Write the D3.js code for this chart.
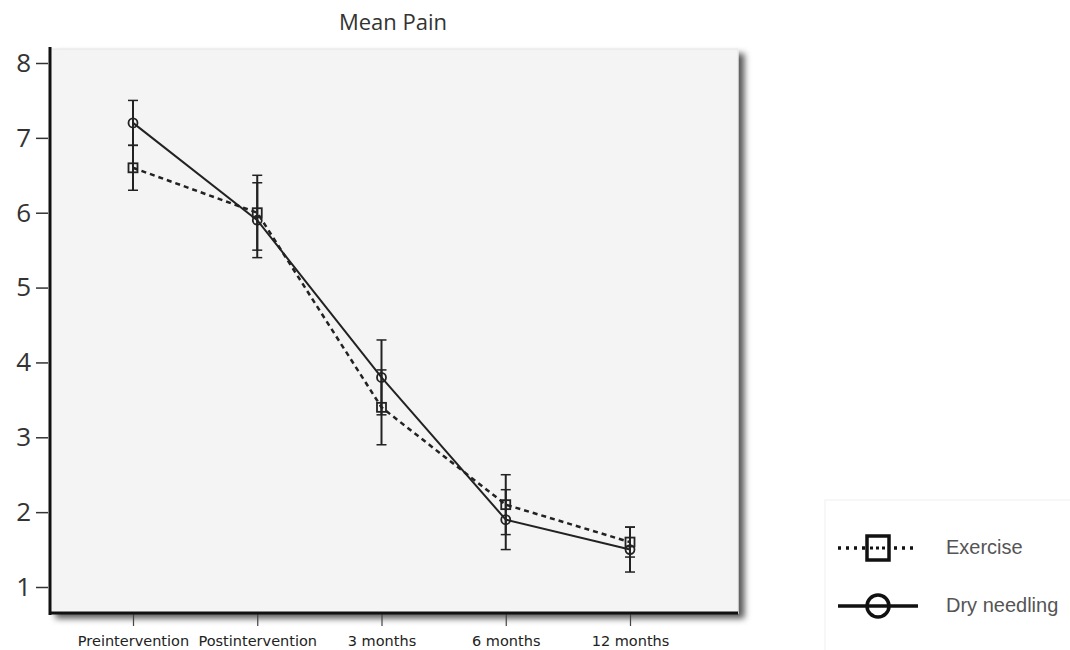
<!DOCTYPE html>
<meta charset="utf-8">
<style>
body { margin: 0; background: #fff; font-family: "DejaVu Sans", sans-serif; }
</style>
<body>
<script src="https://cdn.jsdelivr.net/npm/d3@7"></script>
<script>

var categories = ["Preintervention", "Postintervention", "3 months", "6 months", "12 months"];
var yTicks = [1, 2, 3, 4, 5, 6, 7, 8];

var exerciseMean = [6.6, 6.0, 3.4, 2.1, 1.6];
var exerciseLow  = [6.3, 5.5, 2.9, 1.7, 1.4];
var exerciseHigh = [6.9, 6.5, 3.9, 2.5, 1.8];

var needlingMean = [7.2, 5.9, 3.8, 1.9, 1.5];
var needlingLow  = [6.9, 5.4, 3.3, 1.5, 1.2];
var needlingHigh = [7.5, 6.4, 4.3, 2.3, 1.8];

var width = 1070, height = 650;
var panel = {left: 50, top: 49, right: 738, bottom: 613};

var svg = d3.select("body").append("svg")
    .attr("width", width)
    .attr("height", height);

var defs = svg.append("defs");
var f = defs.append("filter").attr("id", "shadow")
    .attr("x", "-5%").attr("y", "-5%").attr("width", "115%").attr("height", "115%");
f.append("feDropShadow")
    .attr("dx", 6).attr("dy", 5).attr("stdDeviation", 3)
    .attr("flood-color", "#000").attr("flood-opacity", 0.65);

var x = d3.scalePoint()
    .domain(categories)
    .range([133, 630]);

var y = d3.scaleLinear()
    .domain([1, 8])
    .range([587, 63]);

// panel
svg.append("rect")
    .attr("x", panel.left)
    .attr("y", panel.top)
    .attr("width", panel.right - panel.left)
    .attr("height", panel.bottom - panel.top)
    .style("fill", "#f4f4f4")
    .style("stroke", "#e6e6e6")
    .style("filter", "url(#shadow)");

// title
svg.append("text")
    .attr("x", 393)
    .attr("y", 30)
    .attr("text-anchor", "middle")
    .style("font-family", "'Open Sans', sans-serif")
    .style("font-size", "22px")
    .style("fill", "#333")
    .text("Mean Pain");

// y axis
var yAxis = svg.append("g")
    .attr("transform", "translate(" + (panel.left - 2) + ",0)")
    .call(d3.axisLeft(y).tickValues(yTicks).tickSize(12).tickPadding(5).tickFormat(d3.format("d")));
yAxis.select(".domain").remove();
yAxis.selectAll(".tick line").style("stroke", "#333").style("stroke-width", 1.5);
yAxis.selectAll(".tick text")
    .style("font-family", "'Open Sans', sans-serif")
    .style("font-size", "26px")
    .style("fill", "#333");

// x axis
var xAxis = svg.append("g")
    .attr("transform", "translate(0," + (panel.bottom + 1) + ")")
    .call(d3.axisBottom(x).tickSize(12).tickPadding(10));
xAxis.select(".domain").remove();
xAxis.selectAll(".tick line").style("stroke", "#444").style("stroke-width", 1.2);
xAxis.selectAll(".tick text")
    .style("font-family", "'DejaVu Sans', sans-serif")
    .style("font-size", "14.5px")
    .style("fill", "#222");

// thick axis lines
svg.append("line")
    .attr("x1", panel.left).attr("x2", panel.left)
    .attr("y1", panel.top - 2).attr("y2", panel.bottom + 2)
    .style("stroke", "#111").style("stroke-width", 3);
svg.append("line")
    .attr("x1", panel.left).attr("x2", panel.right)
    .attr("y1", panel.bottom).attr("y2", panel.bottom)
    .style("stroke", "#111").style("stroke-width", 3);

function series(mean, low, high) {
  return categories.map(function(c, i) {
    return {cat: c, mean: mean[i], low: low[i], high: high[i]};
  });
}

var exercise = series(exerciseMean, exerciseLow, exerciseHigh);
var needling = series(needlingMean, needlingLow, needlingHigh);

var line = d3.line()
    .x(function(d) { return x(d.cat); })
    .y(function(d) { return y(d.mean); });

function errorBars(data, cls) {
  var g = svg.append("g").attr("class", cls);
  g.selectAll("line.bar").data(data).enter().append("line")
      .attr("x1", function(d) { return x(d.cat); })
      .attr("x2", function(d) { return x(d.cat); })
      .attr("y1", function(d) { return y(d.low); })
      .attr("y2", function(d) { return y(d.high); })
      .style("stroke", "#222").style("stroke-width", 2);
  [ "low", "high" ].forEach(function(k) {
    g.selectAll("line.cap" + k).data(data).enter().append("line")
        .attr("x1", function(d) { return x(d.cat) - 5; })
        .attr("x2", function(d) { return x(d.cat) + 5; })
        .attr("y1", function(d) { return y(d[k]); })
        .attr("y2", function(d) { return y(d[k]); })
        .style("stroke", "#222").style("stroke-width", 1.5);
  });
}

errorBars(exercise, "err-ex");
errorBars(needling, "err-dn");

svg.append("path")
    .datum(exercise)
    .attr("d", line)
    .style("fill", "none")
    .style("stroke", "#222")
    .style("stroke-width", 2.5)
    .style("stroke-dasharray", "5,4");

svg.append("path")
    .datum(needling)
    .attr("d", line)
    .style("fill", "none")
    .style("stroke", "#222")
    .style("stroke-width", 2);

svg.selectAll("rect.mk").data(exercise).enter().append("rect")
    .attr("class", "mk")
    .attr("x", function(d) { return x(d.cat) - 4.5; })
    .attr("y", function(d) { return y(d.mean) - 4.5; })
    .attr("width", 9).attr("height", 9)
    .style("fill", "none").style("stroke", "#222").style("stroke-width", 1.8);

svg.selectAll("circle.mk").data(needling).enter().append("circle")
    .attr("class", "mk")
    .attr("cx", function(d) { return x(d.cat); })
    .attr("cy", function(d) { return y(d.mean); })
    .attr("r", 4.5)
    .style("fill", "none").style("stroke", "#222").style("stroke-width", 1.8);

// legend
var lg = svg.append("g");
lg.append("rect")
    .attr("x", 825).attr("y", 500).attr("width", 250).attr("height", 160)
    .style("fill", "#fff").style("stroke", "#f0f0f0");

lg.append("line")
    .attr("x1", 838).attr("x2", 918).attr("y1", 548).attr("y2", 548)
    .style("stroke", "#111").style("stroke-width", 3.5).style("stroke-dasharray", "3,5");
lg.append("rect")
    .attr("x", 867).attr("y", 536).attr("width", 22).attr("height", 24)
    .style("fill", "#fff").style("stroke", "#111").style("stroke-width", 3.5);
lg.append("line")
    .attr("x1", 870).attr("x2", 886).attr("y1", 548).attr("y2", 548)
    .style("stroke", "#111").style("stroke-width", 3).style("stroke-dasharray", "3,3");

lg.append("line")
    .attr("x1", 838).attr("x2", 918).attr("y1", 606).attr("y2", 606)
    .style("stroke", "#111").style("stroke-width", 3.5);
lg.append("circle")
    .attr("cx", 878).attr("cy", 606).attr("r", 11)
    .style("fill", "none").style("stroke", "#111").style("stroke-width", 3.5);

lg.selectAll("text").data(["Exercise", "Dry needling"]).enter().append("text")
    .attr("x", 946)
    .attr("y", function(d, i) { return 554 + i * 58; })
    .style("font-family", "'Liberation Sans', sans-serif")
    .style("font-size", "20px")
    .style("fill", "#555")
    .text(function(d) { return d; });

</script>
</body>
